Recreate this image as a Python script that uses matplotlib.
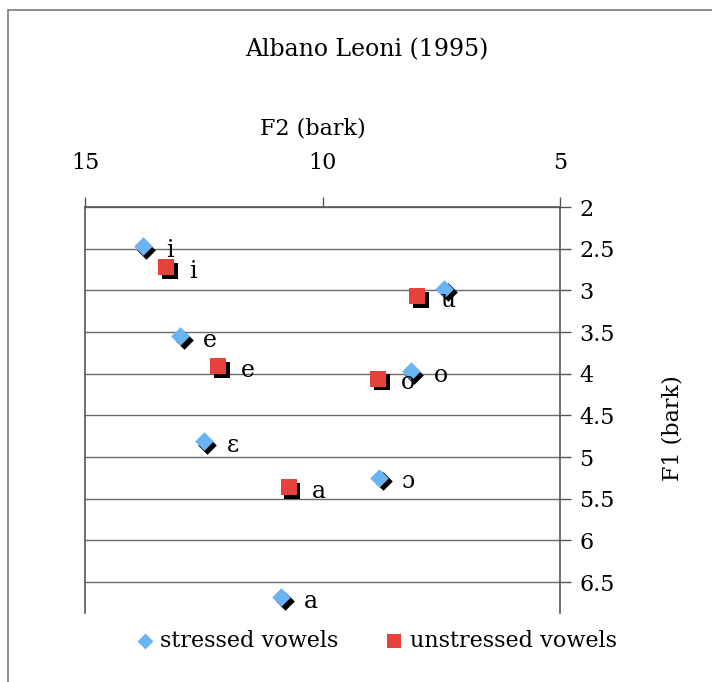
import matplotlib
matplotlib.use("Agg")
import matplotlib.pyplot as plt
import matplotlib.transforms as mtransforms
from matplotlib.patches import Rectangle

# ---- data ----
stressed_labels = ["i", "u", "e", "o", "ɛ", "ɔ", "a"]
stressed_f2 = [13.78, 7.44, 13.00, 8.14, 12.50, 8.81, 10.87]
stressed_f1 = [2.47, 2.98, 3.55, 3.97, 4.81, 5.25, 6.68]
stressed_show_label = [True, False, True, True, True, True, True]

unstressed_labels = ["i", "u", "e", "o", "a"]
unstressed_f2 = [13.29, 8.01, 12.20, 8.83, 10.71]
unstressed_f1 = [2.72, 3.07, 3.91, 4.06, 5.36]

x_ticks = [15, 10, 5]
y_ticks = [2, 2.5, 3, 3.5, 4, 4.5, 5, 5.5, 6, 6.5]
y_tick_labels = ["2", "2.5", "3", "3.5", "4", "4.5", "5", "5.5", "6", "6.5"]

title = "Albano Leoni (1995)"
x_label = "F2 (bark)"
y_label = "F1 (bark)"

BLUE = "#6AB4F4"
RED = "#E8403B"
FONT = "DejaVu Serif"
plt.rcParams["font.family"] = FONT
FS = 16

W, H = 712, 682
fig = plt.figure(figsize=(W / 100, H / 100), dpi=100)
fig.patch.set_facecolor("white")

# outer border
fig.add_artist(Rectangle((8 / W, -0.1), 1.2, 1 - 10 / H + 0.1, transform=fig.transFigure,
                         fill=False, edgecolor="#7a7a7a", linewidth=1.2))

left, right, top, bottom = 85, 560, 207, 613
ax = fig.add_axes([left / W, 1 - bottom / H, (right - left) / W, (bottom - top) / H])
ax.set_xlim(15, 5)
ax.set_ylim(6.87, 2)

ax.xaxis.set_ticks_position("top")
ax.xaxis.set_label_position("top")
ax.yaxis.set_ticks_position("right")
ax.yaxis.set_label_position("right")
ax.set_xticks(x_ticks)
ax.set_xticklabels([str(t) for t in x_ticks], fontsize=FS)
ax.set_yticks(y_ticks)
ax.set_yticklabels(y_tick_labels, fontsize=FS)
ax.tick_params(axis="x", direction="out", length=7, width=1, color="#555555", pad=17)
ax.tick_params(axis="y", direction="out", length=8, width=1, color="#555555", pad=6)

for s in ["top", "left", "right"]:
    ax.spines[s].set_color("#555555")
    ax.spines[s].set_linewidth(1.2)
ax.spines["bottom"].set_visible(False)

ax.grid(axis="y", color="#6a6a6a", linewidth=1)
ax.set_axisbelow(True)

shadow = mtransforms.offset_copy(ax.transData, fig=fig, x=3.5, y=-3.5, units="dots")
lab = mtransforms.offset_copy(ax.transData, fig=fig, x=23, y=-4, units="dots")

# stressed
ax.scatter(stressed_f2, stressed_f1, marker="D", s=90, color="black", transform=shadow,
           linewidths=0, zorder=3)
ax.scatter(stressed_f2, stressed_f1, marker="D", s=90, color=BLUE, linewidths=0, zorder=4,
           label="stressed vowels")
for xv, yv, t, show in zip(stressed_f2, stressed_f1, stressed_labels, stressed_show_label):
    if show:
        ax.text(xv, yv, t, transform=lab, fontsize=FS + 1, va="center", ha="left", zorder=5)

# unstressed
ax.scatter(unstressed_f2, unstressed_f1, marker="s", s=130, color="black", transform=shadow,
           linewidths=0, zorder=3)
ax.scatter(unstressed_f2, unstressed_f1, marker="s", s=130, color=RED, linewidths=0, zorder=4,
           label="unstressed vowels")
for xv, yv, t in zip(unstressed_f2, unstressed_f1, unstressed_labels):
    ax.text(xv, yv, t, transform=lab, fontsize=FS + 1, va="center", ha="left", zorder=5)

fig.text(367 / W, 1 - 50 / H, title, ha="center", va="center", fontsize=17)
fig.text(313 / W, 1 - 128 / H, x_label, ha="center", va="center", fontsize=FS)
fig.text(672 / W, 1 - 428 / H, y_label, ha="center", va="center", fontsize=FS, rotation=90)

fig.legend(loc="center", bbox_to_anchor=(375 / W, 1 - 641 / H), ncol=2, frameon=False,
           fontsize=FS, handletextpad=0.2, columnspacing=2.0, markerscale=0.85,
           handlelength=1.0)

fig.savefig("out.png", dpi=100)
